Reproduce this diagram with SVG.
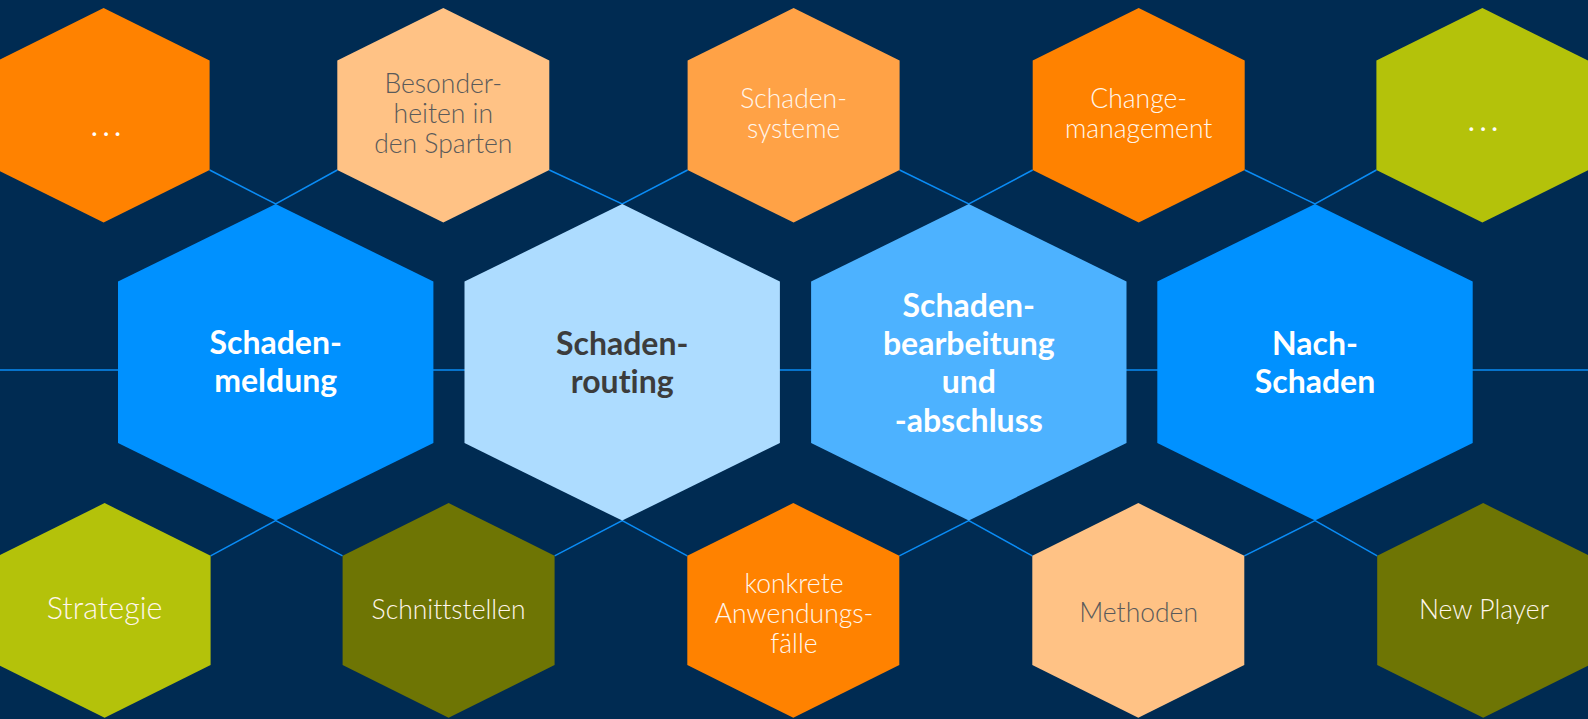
<svg xmlns="http://www.w3.org/2000/svg" xmlns:xlink="http://www.w3.org/1999/xlink" width="1588" height="719" viewBox="0 0 1588 719">
<defs>
<polygon id="sh" points="0,-107.3 106,-54.7 106,54.7 0,107.3 -106,54.7 -106,-54.7"/>
<polygon id="bh" points="0,-158.3 157.7,-80.7 157.7,80.7 0,158.3 -157.7,80.7 -157.7,-80.7"/>
</defs>
<style>
.bg{fill:#002B52}
.conn{fill:none;stroke:#0A8CF5;stroke-width:1.5}
.orange{fill:#FF8200}
.peach{fill:#FFC285}
.midor{fill:#FFA246}
.lime{fill:#B4C20A}
.olive{fill:#6E7504}
.blue{fill:#0091FF}
.lblue{fill:#ADDCFF}
.mblue{fill:#4DB2FF}
text{font-variant-ligatures:none}
.st{font-family:Lato,"Liberation Sans",sans-serif;font-weight:300;font-size:26.5px;text-anchor:middle}
.bt{font-family:Lato,"Liberation Sans",sans-serif;font-weight:700;font-size:32px;text-anchor:middle}
.dots{font-family:Lato,"Liberation Sans",sans-serif;font-weight:700;font-size:24px;text-anchor:middle;letter-spacing:6px;fill:#FFFFFF}
.w{fill:#FFF6EC}
.g{fill:#5A5A5A}
.dk{fill:#3C3C3C}
.wb{fill:#FFFFFF}
</style>
<rect class="bg" x="0" y="0" width="1588" height="719"/>
<g id="connectors">
<path class="conn" d="M0,370 H1588"/>
<path class="conn" d="M209.6,170 L275.7,204 L337.3,170 M549.3,170 L622.2,204 L687.6,170 M899.6,170 L968.8,204 L1032.7,170 M1244.7,170 L1315,204 L1376.4,170"/>
<path class="conn" d="M210.6,555.9 L275.7,520.6 L342.6,555.9 M554.6,555.9 L622.2,520.6 L687.3,555.9 M899.3,555.9 L968.8,520.6 L1032.3,555.9 M1244.3,555.9 L1315,520.6 L1377.2,555.9"/>
</g>
<g id="top-more-1">
<use xlink:href="#sh" class="orange" x="103.6" y="115.3"/>
<text class="dots" x="109" y="136">...</text>
</g>
<g id="besonderheiten">
<use xlink:href="#sh" class="peach" x="443.3" y="115.3"/>
<text class="st g" x="443.3" y="93.3">Besonder-</text>
<text class="st g" x="443.3" y="123.3">heiten in</text>
<text class="st g" x="443.3" y="153.3">den Sparten</text>
</g>
<g id="schadensysteme">
<use xlink:href="#sh" class="midor" x="793.6" y="115.3"/>
<text class="st w" x="793.6" y="108.3">Schaden-</text>
<text class="st w" x="793.6" y="138.3">systeme</text>
</g>
<g id="changemanagement">
<use xlink:href="#sh" class="orange" x="1138.7" y="115.3"/>
<text class="st w" x="1138.7" y="108.3">Change-</text>
<text class="st w" x="1138.7" y="138.3">management</text>
</g>
<g id="top-more-2">
<use xlink:href="#sh" class="lime" x="1482.4" y="115.3"/>
<text class="dots" x="1486" y="130.5">...</text>
</g>
<g id="schadenmeldung">
<use xlink:href="#bh" class="blue" x="275.7" y="362.3"/>
<text class="bt wb" x="275.7" y="354">Schaden-</text>
<text class="bt wb" x="275.7" y="392">meldung</text>
</g>
<g id="schadenrouting">
<use xlink:href="#bh" class="lblue" x="622.2" y="362.3"/>
<text class="bt dk" x="622.2" y="355">Schaden-</text>
<text class="bt dk" x="622.2" y="393.3">routing</text>
</g>
<g id="schadenbearbeitung">
<use xlink:href="#bh" class="mblue" x="968.8" y="362.3"/>
<text class="bt wb" x="968.8" y="316.7">Schaden-</text>
<text class="bt wb" x="968.8" y="355">bearbeitung</text>
<text class="bt wb" x="968.8" y="393.3">und</text>
<text class="bt wb" x="968.8" y="431.7">-abschluss</text>
</g>
<g id="nachschaden">
<use xlink:href="#bh" class="blue" x="1315" y="362.3"/>
<text class="bt wb" x="1315" y="355">Nach-</text>
<text class="bt wb" x="1315" y="393.3">Schaden</text>
</g>
<g id="strategie">
<use xlink:href="#sh" class="lime" x="104.6" y="610.4"/>
<text class="st w" x="104.6" y="619.3" style="font-size:30.5px">Strategie</text>
</g>
<g id="schnittstellen">
<use xlink:href="#sh" class="olive" x="448.6" y="610.4"/>
<text class="st w" x="448.6" y="619">Schnittstellen</text>
</g>
<g id="anwendungsfaelle">
<use xlink:href="#sh" class="orange" x="793.3" y="610.4"/>
<text class="st w" x="794" y="592.7">konkrete</text>
<text class="st w" x="794" y="623.3">Anwendungs-</text>
<text class="st w" x="794" y="653.3">fälle</text>
</g>
<g id="methoden">
<use xlink:href="#sh" class="peach" x="1138.3" y="610.4"/>
<text class="st g" x="1138.6" y="622.3">Methoden</text>
</g>
<g id="newplayer">
<use xlink:href="#sh" class="olive" x="1483.2" y="610.4"/>
<text class="st w" x="1484" y="619">New Player</text>
</g>
</svg>
